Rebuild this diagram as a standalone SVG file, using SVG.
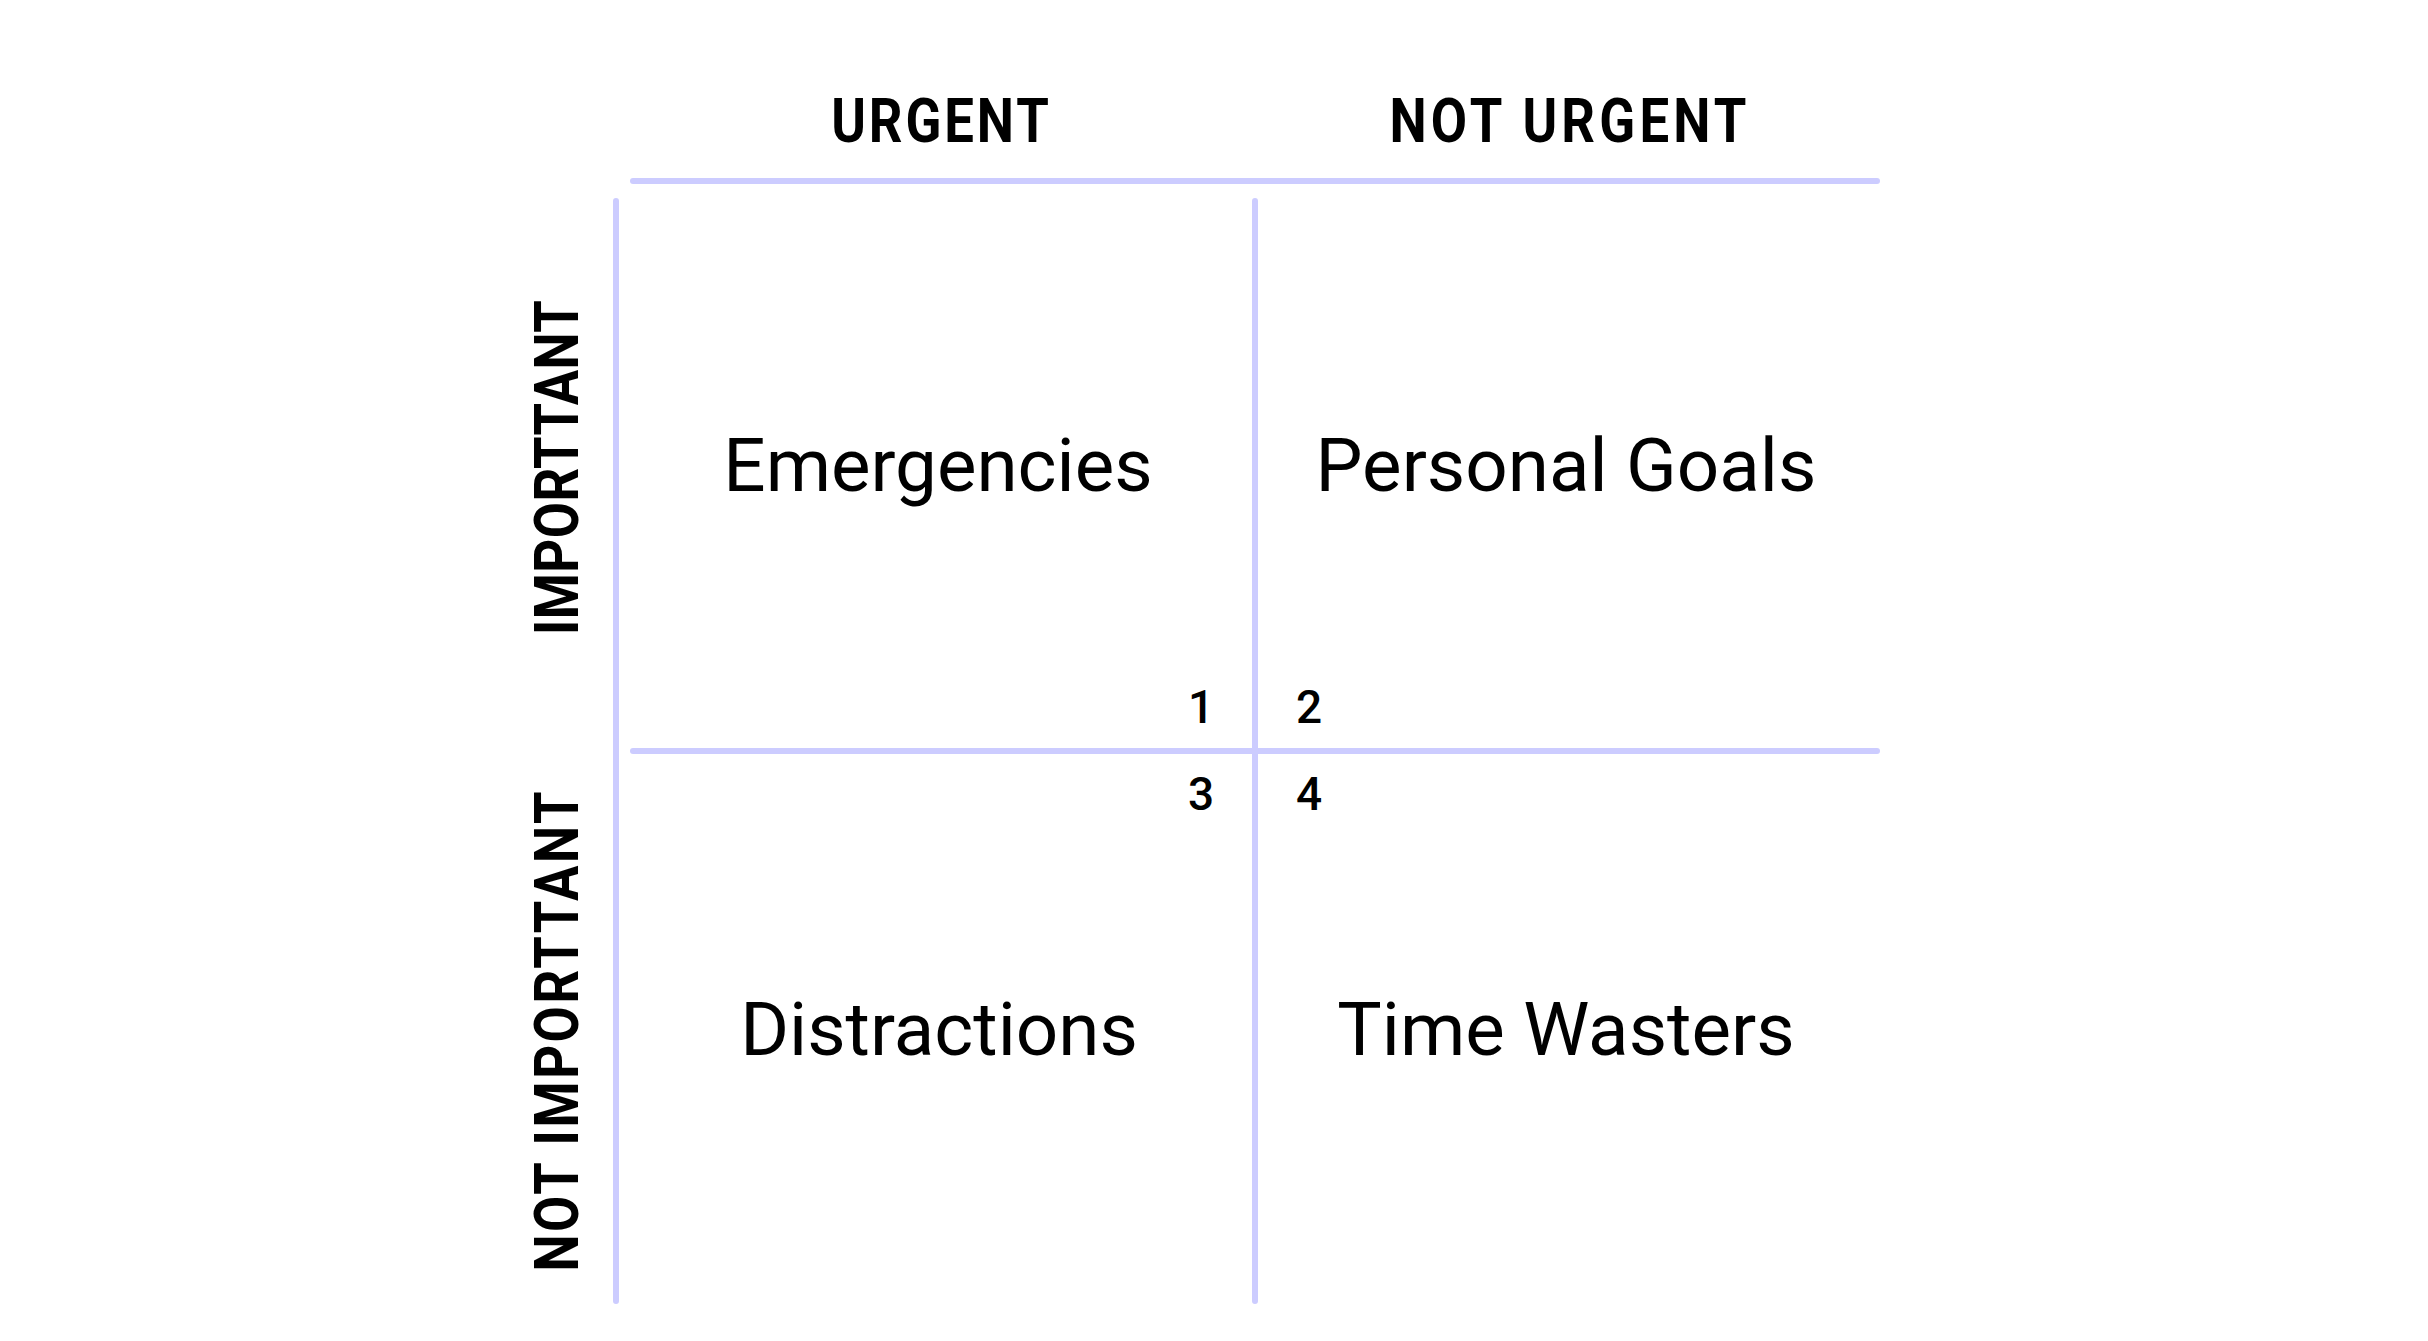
<svg xmlns="http://www.w3.org/2000/svg" width="2428" height="1341" viewBox="0 0 2428 1341">
  <style>
    .grid { stroke: #ccccff; stroke-width: 6; stroke-linecap: round; fill: none; }
    .axis { font-family: Roboto, "Liberation Sans", sans-serif; font-weight: bold; font-size: 62px; fill: #000; text-anchor: middle; }
    .cell { font-family: Roboto, "Liberation Sans", sans-serif; font-size: 74.5px; fill: #000; text-anchor: middle; }
    .num { font-family: Roboto, "Liberation Sans", sans-serif; font-weight: 500; font-size: 46px; fill: #000; text-anchor: middle; }
  </style>
  <rect width="2428" height="1341" fill="#ffffff"/>

  <!-- grid lines -->
  <g id="connectors">
    <line class="grid" x1="633" y1="181" x2="1877" y2="181"/>
    <line class="grid" x1="633" y1="751" x2="1877" y2="751"/>
    <line class="grid" x1="616" y1="201" x2="616" y2="1301"/>
    <line class="grid" x1="1255" y1="201" x2="1255" y2="1301"/>
  </g>

  <!-- axis headings (slightly condensed, spaced out to a fixed length) -->
  <g id="axis-urgent">
    <text class="axis" transform="translate(940 142) scale(0.85 1)" textLength="256" lengthAdjust="spacing">URGENT</text>
  </g>
  <g id="axis-not-urgent">
    <text class="axis" transform="translate(1568 142) scale(0.85 1)" textLength="420" lengthAdjust="spacing">NOT URGENT</text>
  </g>
  <g id="axis-important">
    <text class="axis" transform="translate(578 467.5) rotate(-90) scale(0.85 1)" textLength="394" lengthAdjust="spacing">IMPORTTANT</text>
  </g>
  <g id="axis-not-important">
    <text class="axis" transform="translate(578 1031.5) rotate(-90) scale(0.85 1)" textLength="565" lengthAdjust="spacing">NOT IMPORTTANT</text>
  </g>

  <!-- quadrants -->
  <g id="q1"><text class="cell" x="938" y="491">Emergencies</text><text class="num" x="1201" y="723">1</text></g>
  <g id="q2"><text class="cell" x="1566" y="491">Personal Goals</text><text class="num" x="1309" y="723">2</text></g>
  <g id="q3"><text class="cell" x="939" y="1055">Distractions</text><text class="num" x="1201" y="810">3</text></g>
  <g id="q4"><text class="cell" x="1566" y="1055">Time Wasters</text><text class="num" x="1309" y="810">4</text></g>
</svg>
